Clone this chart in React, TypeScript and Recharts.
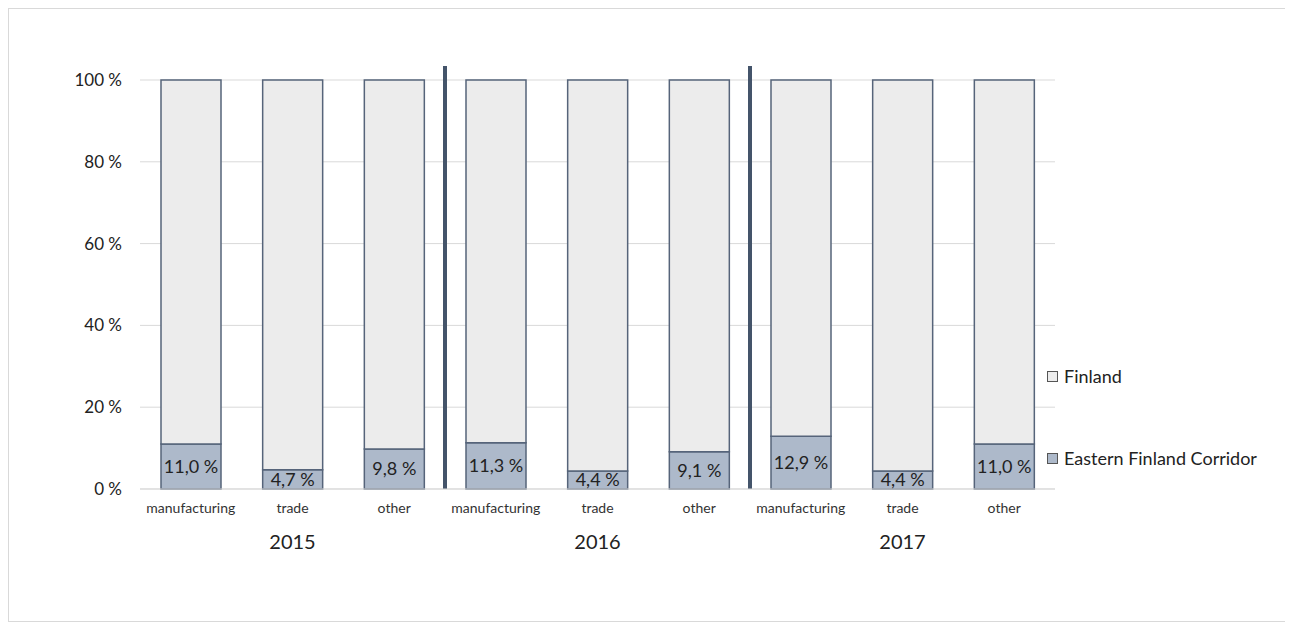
import { BarChart, Bar, XAxis, YAxis, CartesianGrid, ReferenceLine, LabelList } from "recharts";

const years = ["2015", "2016", "2017"];
const sectors = ["manufacturing", "trade", "other"];
// share of Eastern Finland Corridor, %, per year x sector
const corridorShare = [11.0, 4.7, 9.8, 11.3, 4.4, 9.1, 12.9, 4.4, 11.0];
const yTicks = [0, 20, 40, 60, 80, 100];

const FONT = "Lato, 'Open Sans', sans-serif";
const EDGE = "#56647a";
const COLORS = { corridor: "#adb9ca", finland: "#ececec" };

const chartData = corridorShare.map((v, i) => ({
  key: `${years[Math.floor(i / 3)]}-${sectors[i % 3]}`,
  sector: sectors[i % 3],
  year: years[Math.floor(i / 3)],
  corridor: v,
  finland: +(100 - v).toFixed(1),
}));

const CategoryTick = ({ x, y, payload, index }: any) => {
  const row = chartData[index] ?? chartData.find((d) => d.key === payload.value);
  return (
    <g>
      <text x={x} y={y + 24} textAnchor="middle" fontSize={14} fill="#333" fontFamily={FONT}>
        {row?.sector}
      </text>
      {row && row.sector === "trade" && (
        <text x={x} y={y + 60} textAnchor="middle" fontSize={20} fill="#222" fontFamily={FONT}>
          {row.year}
        </text>
      )}
    </g>
  );
};

const legendItems = [
  { name: "Finland", color: COLORS.finland, top: 356 },
  { name: "Eastern Finland Corridor", color: COLORS.corridor, top: 438 },
];

const fmt = (v: number) => `${v.toFixed(1).replace(".", ",")} %`;

export default function App() {
  return (
    <div style={{ position: "relative", width: 1276, height: 612, border: "1px solid #d9d9d9", background: "#fff" }}>
      <BarChart
        width={1276}
        height={612}
        data={chartData}
        margin={{ top: 71, right: 230, left: 0, bottom: 0 }}
        barSize={60}
      >
        <CartesianGrid vertical={false} stroke="#d9d9d9" />
        <XAxis
          dataKey="key"
          height={132}
          tickLine={false}
          axisLine={{ stroke: "#d9d9d9" }}
          tickSize={0}
          tickMargin={0}
          interval={0}
          tick={<CategoryTick />}
        />
        <YAxis
          width={131}
          domain={[0, 100]}
          ticks={yTicks}
          tickLine={false}
          axisLine={false}
          tickSize={0}
          tickMargin={18}
          tickFormatter={(v) => `${v} %`}
          tick={{ fontSize: 17, fill: "#222", fontFamily: FONT }}
        />
        <Bar dataKey="corridor" stackId="s" fill={COLORS.corridor} stroke={EDGE} strokeWidth={1.5} isAnimationActive={false}>
          <LabelList
            dataKey="corridor"
            position="center"
            formatter={(v: any) => fmt(Number(v))}
            style={{ fontSize: 18, fill: "#222", fontFamily: FONT }}
          />
        </Bar>
        <Bar dataKey="finland" stackId="s" fill={COLORS.finland} stroke={EDGE} strokeWidth={1.5} isAnimationActive={false} />
        {["2016-manufacturing", "2017-manufacturing"].map((k) => (
          <ReferenceLine
            key={k}
            segment={[{ x: k, y: 0 }, { x: k, y: 103.4 }]}
            position="start"
            ifOverflow="visible"
            stroke="#44546a"
            strokeWidth={4}
          />
        ))}
      </BarChart>
      {legendItems.map((item) => (
        <div
          key={item.name}
          style={{ position: "absolute", left: 1038, top: item.top, display: "flex", alignItems: "center", fontFamily: FONT }}
        >
          <span style={{ width: 9, height: 9, background: item.color, border: "1px solid #555", marginRight: 6 }} />
          <span style={{ fontSize: 18, color: "#222" }}>{item.name}</span>
        </div>
      ))}
    </div>
  );
}
